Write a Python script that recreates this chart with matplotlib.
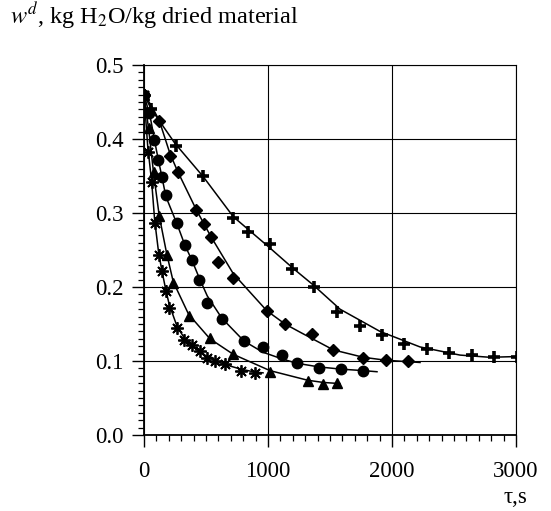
import numpy as np
import matplotlib
matplotlib.use("Agg")
import matplotlib.pyplot as plt
from matplotlib.ticker import MultipleLocator

plt.rcParams['font.family'] = ['Liberation Serif', 'DejaVu Serif']
plt.rcParams['mathtext.fontset'] = 'stix'

# measured points (time s, moisture kg/kg)
t_plus = [0, 60, 255, 476, 718, 839, 1016, 1194, 1371, 1556, 1742, 1919, 2097, 2282, 2460, 2645, 2823, 3005]
w_plus = [0.46, 0.44, 0.39, 0.35, 0.293, 0.274, 0.258, 0.224, 0.2, 0.166, 0.147, 0.135, 0.123, 0.116, 0.111, 0.108, 0.105, 0.105]

t_diam = [0, 123, 210, 272, 419, 484, 538, 599, 720, 990, 1137, 1352, 1527, 1769, 1952, 2131]
w_diam = [0.46, 0.425, 0.377, 0.355, 0.304, 0.285, 0.268, 0.234, 0.212, 0.168, 0.150, 0.137, 0.115, 0.104, 0.102, 0.100]

t_circ = [0, 40, 83, 115, 148, 177, 269, 331, 387, 446, 510, 627, 806, 957, 1110, 1231, 1411, 1589, 1769]
w_circ = [0.46, 0.435, 0.399, 0.371, 0.349, 0.324, 0.287, 0.257, 0.237, 0.209, 0.178, 0.157, 0.127, 0.119, 0.108, 0.097, 0.091, 0.089, 0.087]

t_tri = [0, 40, 80, 123, 183, 236, 360, 532, 720, 1016, 1320, 1446, 1559]
w_tri = [0.46, 0.415, 0.355, 0.296, 0.243, 0.206, 0.161, 0.131, 0.109, 0.0855, 0.073, 0.0685, 0.070]

t_star = [0, 30, 62, 86, 119, 148, 176, 204, 266, 325, 387, 448, 508, 570, 657, 781, 895]
w_star = [0.46, 0.383, 0.342, 0.287, 0.243, 0.221, 0.195, 0.171, 0.145, 0.129, 0.122, 0.113, 0.104, 0.0996, 0.096, 0.086, 0.084]

# fitted curves
ct_plus = [0, 60, 250, 478, 720, 1000, 1204, 1363, 1581, 1903, 2226, 2548, 2790, 3000]
cw_plus = [0.46, 0.44, 0.394, 0.349, 0.295, 0.255, 0.225, 0.203, 0.17, 0.14, 0.119, 0.108, 0.105, 0.106]

ct_diam = [0, 60, 123, 210, 272, 420, 540, 720, 990, 1137, 1258, 1527, 1769, 1952, 2226]
cw_diam = [0.46, 0.445, 0.425, 0.38, 0.356, 0.305, 0.268, 0.218, 0.168, 0.15, 0.139, 0.115, 0.105, 0.101, 0.098]

ct_circ = [0, 50, 100, 177, 269, 331, 387, 446, 510, 627, 806, 957, 1110, 1231, 1411, 1589, 1769, 1879]
cw_circ = [0.46, 0.43, 0.385, 0.322, 0.284, 0.256, 0.236, 0.212, 0.188, 0.158, 0.127, 0.112, 0.103, 0.097, 0.092, 0.089, 0.087, 0.0855]

ct_tri = [0, 40, 80, 123, 183, 236, 360, 532, 720, 1016, 1320, 1446, 1580]
cw_tri = [0.46, 0.41, 0.35, 0.296, 0.245, 0.207, 0.163, 0.13, 0.109, 0.087, 0.074, 0.071, 0.0695]

ct_star = [0, 30, 62, 86, 119, 148, 176, 204, 266, 325, 387, 448, 508, 570, 657, 781, 895, 960]
cw_star = [0.46, 0.39, 0.342, 0.29, 0.245, 0.219, 0.196, 0.176, 0.147, 0.131, 0.121, 0.113, 0.106, 0.101, 0.095, 0.089, 0.085, 0.084]

fig = plt.figure(figsize=(5.51, 5.11), dpi=100)
ax = fig.add_axes([144 / 551, 76 / 511, 372 / 551, 370 / 511])

lw = 1.1
for ct, cw in [(ct_plus, cw_plus), (ct_diam, cw_diam), (ct_circ, cw_circ), (ct_tri, cw_tri), (ct_star, cw_star)]:
    ax.plot(ct, cw, 'k-', lw=lw, zorder=3)

ax.plot(t_plus, w_plus, 'k+', ms=8, mew=2.6, ls='none', zorder=4)
ax.plot(t_diam, w_diam, 'kD', ms=6, ls='none', zorder=4)
ax.plot(t_circ, w_circ, 'ko', ms=7.5, ls='none', zorder=4)
ax.plot(t_tri, w_tri, 'k^', ms=7.5, ls='none', zorder=4)
ax.plot(t_star, w_star, color='k', marker=(8, 2, 0), ms=9, mew=1.3, ls='none', zorder=4)

ax.set_xlim(0, 3000)
ax.set_ylim(0, 0.5)
ax.xaxis.set_major_locator(MultipleLocator(1000))
ax.xaxis.set_minor_locator(MultipleLocator(100))
ax.yaxis.set_major_locator(MultipleLocator(0.1))
ax.yaxis.set_minor_locator(MultipleLocator(0.01))
ax.yaxis.set_major_formatter(matplotlib.ticker.FormatStrFormatter('%.1f'))
ax.grid(True, which='major', color='k', lw=0.8)
ax.tick_params(which='major', direction='out', length=8.5, width=1.0, labelsize=16.5, color='k')
ax.tick_params(which='minor', direction='out', length=4.3, width=0.9, color='k')
ax.tick_params(axis='x', which='major', pad=10)
ax.tick_params(axis='y', which='major', pad=6)
for s in ax.spines.values():
    s.set_linewidth(0.8)
ax.spines['left'].set_linewidth(1.3)
ax.spines['bottom'].set_linewidth(1.3)

fig.text(10 / 551, 1 - 24 / 511, r"$w^d$, kg H$_2$O/kg dried material", fontsize=17.5, va='baseline', ha='left')
fig.text(527 / 551, 1 - 503 / 511, "τ,s", fontsize=16.5, va='baseline', ha='right')

fig.savefig('out.png', dpi=100)
